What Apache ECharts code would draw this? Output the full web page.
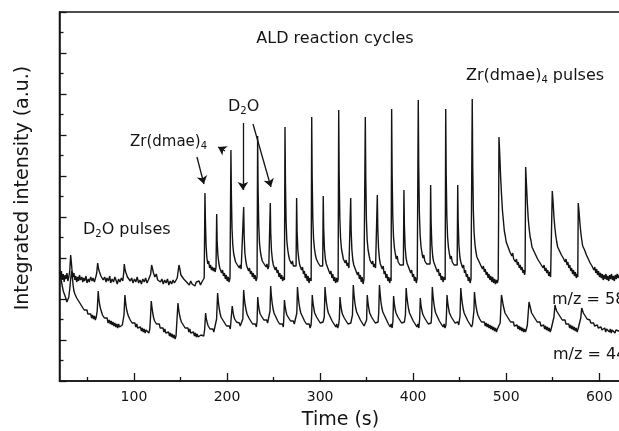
<!DOCTYPE html>
<html><head><meta charset="utf-8">
<script src="https://cdn.jsdelivr.net/npm/echarts@6/dist/echarts.min.js"></script>
<style>html,body{margin:0;padding:0;background:#fff}#c{width:619px;height:431px}</style>
</head><body><div id="c"></div>
<script>
// x-axis tick labels (s)
const xMajorTicks = [100, 200, 300, 400, 500, 600];
const xMinorTicks = [50, 150, 250, 350, 450, 550, 650];

// m/z = 58 trace: [time (s), intensity (a.u.)]
const mz58Pre = [[20,109],[21,103],[22,110],[23,101],[24,107],[25,99],[26,106],[27,102],[28,108],[29,100],[30,104],[31,110],[32,126],[32.8,118],[33.5,110],[34.5,104],[35.5,108],[36.5,101],[37.5,105],[38.5,99],[39.5,104],[40.5,100],[41.5,106],[42.5,101],[44,104],[45,99],[46,103],[47,100],[48.5,105],[49.5,98],[51,102],[52,99],[53.5,104],[55,100],[56,103],[57.5,99],[59,104],[60,108],[61,118],[62,112],[63,109],[64.5,105],[66,107],[67,101],[68.5,104],[70,99],[71,103],[72.5,100],[74,105],[75,98],[76.5,102],[78,99],[79.5,104],[81,100],[82,97],[83.5,102],[85,99],[86.5,103],[88,100],[89,108],[89.6,117],[90.5,111],[91.5,108],[93,104],[94.5,106],[96,100],[97.5,103],[99,98],[100.5,102],[102,99],[103.5,104],[105,98],[106.5,101],[108,97],[109.5,102],[111,99],[112.5,103],[114,98],[115.5,101],[117,100],[118,107],[119,116],[120,112],[121,108],[122.5,104],[124,107],[125.5,101],[127,103],[128.5,99],[130,102],[131.5,97],[133,101],[134.5,98],[136,102],[137.5,96],[139,100],[140.5,97],[142,101],[143.5,98],[145,100],[146.5,103],[147.5,110],[148.4,116],[149.5,111],[150.5,106],[152,108],[153.5,102],[155,104],[156.5,99],[158,101],[159.5,96],[161,100],[162.5,97],[164,99],[165.5,95],[167,99],[168.5,97],[170,100],[171.5,96],[173,99],[174.5,97],[175.5,103]];
const mz58Cycles = [[175.7,102],[176.3,188],[176.8,160],[177.5,136],[178.3,124],[179.3,117],[180.3,120],[181.3,113],[182.3,116],[183.3,111],[184.3,114],[185.3,110],[186.3,113],[187.3,109],[188.2,114],[188.9,167],[189.4,140],[190.2,126],[191.2,118],[192.2,113],[193.2,115],[194.2,108],[195.2,111],[196.2,105],[197.2,108],[198.2,102],[199.2,106],[200.2,100],[201.2,104],[202.2,99],[203.2,103],[203.7,101],
[204.2,231],[204.7,185],[205.4,152],[206.2,136],[207.2,127],[208.2,123],[209.2,119],[210.2,121],[211.2,116],[212.2,118],[213.2,113],[214.2,116],[215.2,112],[216.2,114],[217.3,112],[217.9,174],[218.4,146],[219.2,128],[220.2,120],[221.2,115],[222.2,117],[223.2,110],[224.2,113],[225.2,107],[226.2,110],[227.2,104],[228.2,108],[229.2,102],[230.2,106],[231.2,100],[232.3,104],
[232.9,245],[233.4,192],[234.1,156],[234.9,138],[235.9,129],[236.9,124],[237.9,120],[238.9,122],[239.9,117],[240.9,119],[241.9,114],[242.9,117],[243.9,112],[244.9,115],[245.9,113],[246.5,178],[247,148],[247.8,130],[248.8,121],[249.8,116],[250.8,118],[251.8,111],[252.8,114],[253.8,108],[254.8,111],[255.8,104],[256.8,108],[257.8,102],[258.8,106],[259.8,100],[260.8,104],[261.7,101],
[262.3,254],[262.8,198],[263.5,159],[264.3,140],[265.3,131],[266.3,125],[267.3,121],[268.3,123],[269.3,117],[270.3,120],[271.3,115],[272.3,117],[273.3,113],[274.2,115],[274.8,183],[275.3,150],[276.1,131],[277.1,122],[278.1,116],[279.1,118],[280.1,111],[281.1,114],[282.1,107],[283.1,110],[284.1,103],[285.1,107],[286.1,100],[287.1,105],[288.1,98],[289.1,103],[290.4,100],
[291,264],[291.5,204],[292.2,162],[293,142],[294,132],[295,126],[296,122],[297,124],[298,118],[299,120],[300,115],[301,117],[302,113],[302.8,115],[303.4,185],[303.9,152],[304.7,132],[305.7,122],[306.7,117],[307.7,119],[308.7,112],[309.7,114],[310.7,107],[311.7,110],[312.7,103],[313.7,107],[314.7,100],[315.7,104],[316.7,98],[317.7,103],[318.7,99],[319.4,102],
[320,271],[320.5,208],[321.2,164],[322,143],[323,132],[324,127],[325,122],[326,124],[327,118],[328,121],[329,115],[330,118],[331,113],[332.3,115],[332.9,183],[333.4,150],[334.2,131],[335.2,121],[336.2,116],[337.2,118],[338.2,111],[339.2,113],[340.2,106],[341.2,109],[342.2,102],[343.2,106],[344.2,99],[345.2,104],[346.2,97],[347.2,102],[348,100],
[348.6,264],[349.1,204],[349.8,161],[350.6,141],[351.6,131],[352.6,126],[353.6,121],[354.6,123],[355.6,117],[356.6,120],[357.6,114],[358.6,117],[359.6,113],[360.9,115],[361.5,186],[362,153],[362.8,133],[363.8,122],[364.8,117],[365.8,119],[366.8,112],[367.8,115],[368.8,107],[369.8,110],[370.8,103],[371.8,107],[372.8,100],[373.8,104],[374.8,98],[375.8,103],[376.3,100],
[376.9,272],[377.4,208],[378.1,165],[378.9,144],[379.9,133],[380.9,127],[381.9,122],[382.9,125],[383.9,119],[384.9,121],[385.9,116],[386.9,118],[387.9,114],[389.5,116],[390.1,191],[390.6,156],[391.4,134],[392.4,123],[393.4,118],[394.4,120],[395.4,113],[396.4,115],[397.4,108],[398.4,111],[399.4,104],[400.4,107],[401.4,100],[402.4,104],[403.4,98],[404.4,103],[404.9,101],
[405.5,281],[406,214],[406.7,168],[407.5,146],[408.5,134],[409.5,128],[410.5,123],[411.5,126],[412.5,120],[413.5,122],[414.5,117],[415.5,119],[416.5,115],[418.2,117],[418.8,196],[419.3,159],[420.1,136],[421.1,124],[422.1,119],[423.1,121],[424.1,114],[425.1,116],[426.1,109],[427.1,112],[428.1,105],[429.1,108],[430.1,101],[431.1,105],[432.1,99],[433.1,104],[434.4,101],
[435,272],[435.5,208],[436.2,165],[437,144],[438,133],[439,127],[440,122],[441,125],[442,119],[443,121],[444,116],[445,118],[446,114],[447.3,116],[447.9,196],[448.4,159],[449.2,136],[450.2,124],[451.2,119],[452.2,121],[453.2,113],[454.2,116],[455.2,108],[456.2,111],[457.2,104],[458.2,107],[459.2,100],[460.2,104],[461.2,98],[462.2,102],[462.9,100],
[463.5,282],[464,215],[464.7,170],[465.5,148],[466.5,136],[467.5,129],[468.5,124],[469.5,126],[470.5,120],[471.5,122],[472.5,116],[473.5,118],[474.5,112],[475.5,115],[476.5,109],[477.5,112],[478.5,106],[479.5,109],[480.5,103],[481.5,107],[482.5,101],[483.5,105],[484.5,99],[485.5,104],[486.5,98],[487.5,102],[488.5,97],[489.5,101],[490.5,98],[491.4,102]];
const mz58Late = [[491.8,160],[492.2,244],[493,228],[494,204],[495,186],[496,170],[497,160],[498,150],[499,145],[500,139],[501,141],[502,134],[503,136],[504,129],[505,131],[506,125],[507,128],[508,122],[509,124],[510,119],[511,122],[512,116],[513,119],[514,113],[515,116],[516,111],[517,114],[518,108],[519,111],[519.8,106],[520.3,110],
[520.9,214],[521.7,198],[522.7,178],[523.7,162],[524.7,152],[525.7,144],[526.7,140],[527.7,134],[528.7,136],[529.7,130],[530.7,131],[531.7,126],[532.7,128],[533.7,122],[534.7,124],[535.7,119],[536.7,121],[537.7,116],[538.7,118],[539.7,113],[540.7,116],[541.7,110],[542.7,113],[543.7,108],[544.7,111],[545.7,105],[546.7,109],[547.7,104],[548.7,106],
[549.5,190],[550.3,180],[551.3,164],[552.3,153],[553.3,145],[554.3,139],[555.3,134],[556.3,136],[557.3,130],[558.3,131],[559.3,126],[560.3,128],[561.3,123],[562.3,125],[563.3,119],[564.3,122],[565.3,116],[566.3,119],[567.3,113],[568.3,116],[569.3,110],[570.3,113],[571.3,107],[572.3,111],[573.3,105],[574.3,109],[575.3,103],[576.3,107],[576.9,104],
[577.4,178],[578.2,170],[579.2,158],[580.2,148],[581.2,141],[582.2,135],[583.2,137],[584.2,131],[585.2,132],[586.2,126],[587.2,128],[588.2,122],[589.2,124],[590.2,118],[591.2,120],[592.2,115],[593.2,117],[594.2,111],[595.2,114],[596.2,108],[597.2,112],[598.2,106],[599.2,110],[600.2,104],[601.2,108],[602.2,103],[603.2,107],[604.2,101],[605.2,106],[606.2,102],[607.2,107],[608.2,101],[609.2,105],[610.2,100],[611.2,106],[612.2,102],[613.2,107],[614.2,101],[615.2,105],[616.2,100],[617.2,106],[618.2,102],[619.2,107],[620.2,103],[621.2,106],[622.5,102],[624,105],[626,101]];

// m/z = 44 trace: [time (s), intensity (a.u.)]
const mz44Pre = [[20,111],[21,106],[22,100],[23,95],[24,90],[25,92],[26,85],[27,83],[28,79],[29,78],[30,84],[31,92],[32,102],[33,110],[33.8,104],[34.6,96],[35.5,90],[36.5,87],[37.5,88],[38.5,83],[39.5,84],[40.5,80],[41.5,81],[42.5,77],[43.5,78],[44.5,74],[45.5,75],[46.5,71],[47.5,73],[48.5,69],[49.5,71],[50.5,67],[51.5,69],[52.5,65],[53.5,67],[54.5,63],[55.5,66],[56.5,62],[57.5,65],[58.5,61],[59.5,64],[60.5,70],[61.6,90],[62.3,82],[63.2,76],[64.2,72],[65.2,70],[66.2,66],[67.2,68],[68.2,63],[69.2,65],[70.2,61],[71.2,63],[72.2,58],[73.5,61],[74.5,57],[75.5,60],[76.5,56],[77.5,59],[78.5,55],[79.5,58],[80.5,54],[81.5,57],[82.5,53],[83.5,57],[84.5,54],[85.5,56],[86.5,53],[87.5,56],[88.5,54],[89.3,66],[90.3,86],[91,79],[92,72],[93,68],[94,65],[95,66],[96,61],[97,63],[98,58],[99,60],[100,56],[101,58],[102,54],[103,57],[104,53],[105,55],[106,51],[107,54],[108,50],[109,53],[110,49],[111,52],[112,48],[113,51],[114,49],[115,52],[116,48],[117,52],[117.8,64],[118.6,80],[119.3,74],[120.2,68],[121.2,63],[122.2,60],[123.2,61],[124.2,57],[125.2,59],[126.2,55],[127.2,57],[128.2,53],[129.2,55],[130.2,51],[131.2,53],[132.2,49],[133.2,52],[134.2,48],[135.2,50],[136.2,46],[137.2,49],[138.2,45],[139.2,48],[140.2,44],[141.2,47],[142.2,43],[143.2,46],[144.2,42],[145.2,45],[146.2,44],[147.3,78],[148,72],[149,66],[150,62],[151,59],[152,60],[153,56],[154,57],[155,53],[156,55],[157,51],[158,53],[159,49],[160,52],[161,48],[162,50],[163,46],[164,49],[165,45],[166,48],[167,44],[168,47],[169,44],[170,46],[171,43],[172,46],[173,44],[174,47],[175,45],[176,52]];
const mz44Cycles = [[177,68],[177.8,62],[178.8,58],[179.8,55],[180.8,56],[181.8,52],[182.8,54],[183.8,50],[184.8,52],[185.8,49],[186.8,51],[187.8,50],[188.8,62],[189.9,88],[190.6,80],[191.5,73],[192.5,68],[193.5,64],[194.5,65],[195.5,61],[196.5,62],[197.5,58],[198.5,59],[199.5,55],[200.5,57],[201.5,53],[202.5,55],[203.5,52],[204.5,54],[205.6,75],[206.3,70],[207.2,65],[208.2,62],[209.2,63],[210.2,59],[211.2,60],[212.2,57],[213.2,58],[214.2,55],[215.2,57],[216.2,55],[217,62],[217.9,91],[218.6,83],[219.5,76],[220.5,71],[221.5,67],[222.5,68],[223.5,63],[224.5,64],[225.5,60],[226.5,61],[227.5,57],[228.5,58],[229.5,55],[230.5,57],[231.5,54],[232.3,60],[233,84],[233.7,77],[234.6,71],[235.6,67],[236.6,68],[237.6,64],[238.6,65],[239.6,61],[240.6,62],[241.6,59],[242.6,61],[243.6,58],[244.6,60],[245.6,59],[246.2,70],
[246.9,95],[247.6,86],[248.5,78],[249.5,72],[250.5,68],[251.5,69],[252.5,64],[253.5,65],[254.5,60],[255.5,62],[256.5,57],[257.5,59],[258.5,55],[259.5,57],[260.5,54],[261,62],[261.7,81],[262.4,75],[263.3,70],[264.3,66],[265.3,67],[266.3,63],[267.3,64],[268.3,60],[269.3,62],[270.3,58],[271.3,60],[272.3,57],[273.3,59],[274.3,58],[275,68],[275.7,94],[276.4,86],[277.3,78],[278.3,72],[279.3,68],[280.3,69],[281.3,64],[282.3,65],[283.3,60],[284.3,62],[285.3,57],[286.3,59],[287.3,55],[288.3,57],[289.3,53],[290.3,56],[291,66],[291.6,86],[292.3,79],[293.2,73],[294.2,68],[295.2,69],[296.2,64],[297.2,65],[298.2,61],[299.2,62],[300.2,58],[301.2,60],[302.2,57],[303.2,59],[304.5,64],[305.3,94],[306,86],[306.9,78],[307.9,72],[308.9,68],[309.9,69],[310.9,64],[311.9,65],[312.9,60],[313.9,62],[314.9,57],[315.9,59],[316.9,54],[317.9,57],[318.9,53],[319.9,56],[320.7,62],[321.4,84],[322.1,77],[323,71],[324,67],[325,68],[326,63],[327,64],[328,60],[329,61],[330,57],[331,59],[332,56],[333,58],[334.8,66],[335.7,96],[336.4,87],[337.3,79],[338.3,73],[339.3,69],[340.3,70],[341.3,65],[342.3,66],[343.3,61],[344.3,62],[345.3,58],[346.3,60],[347.3,55],[348.3,57],[349.3,53],[350,61],[350.7,86],[351.4,79],[352.3,73],[353.3,68],[354.3,69],[355.3,64],[356.3,65],[357.3,61],[358.3,62],[359.3,58],[360.3,60],[361.3,57],[362.3,59],[363,68],[363.8,96],[364.5,88],[365.4,79],[366.4,73],[367.4,69],[368.4,70],[369.4,65],[370.4,66],[371.4,61],[372.4,62],[373.4,57],[374.4,59],[375.4,54],[376.4,57],[377.4,53],[378.3,60],[379,85],[379.7,78],[380.6,72],[381.6,68],[382.6,69],[383.6,64],[384.6,65],[385.6,61],[386.6,62],[387.6,58],[388.6,60],[389.6,57],[390.6,59],[391.7,66],[392.5,93],[393.2,85],[394.1,78],[395.1,72],[396.1,68],[397.1,69],[398.1,64],[399.1,65],[400.1,60],[401.1,62],[402.1,57],[403.1,59],[404.1,54],[405.1,57],[406.1,53],[407,62],[407.7,83],[408.4,76],[409.3,71],[410.3,67],[411.3,68],[412.3,63],[413.3,64],[414.3,60],[415.3,61],[416.3,57],[417.3,59],[418.3,56],[419.3,58],[419.9,66],[420.6,94],[421.3,86],[422.2,78],[423.2,72],[424.2,68],[425.2,69],[426.2,64],[427.2,65],[428.2,60],[429.2,62],[430.2,57],[431.2,59],[432.2,54],[433.2,57],[434.2,53],[435.2,56],[435.8,66],[436.4,86],[437.1,79],[438,73],[439,68],[440,69],[441,64],[442,65],[443,61],[444,62],[445,58],[446,60],[447,57],[448,59],[449,56],[450.4,65],[451.2,93],[451.9,85],[452.8,78],[453.8,72],[454.8,68],[455.8,69],[456.8,64],[457.8,65],[458.8,60],[459.8,62],[460.8,57],[461.8,59],[462.8,54],[463.8,57],[464.8,55],[465.3,70],[465.9,89],[466.6,82],[467.5,75],[468.5,70],[469.5,66],[470.5,67],[471.5,62],[472.5,64],[473.5,59],[474.5,61],[475.5,57],[476.5,59],[477.5,55],[478.5,58],[479.5,54],[480.5,57],[481.5,53],[482.5,56],[483.5,52],[484.5,55],[485.5,51],[486.5,54],[487.5,50],[488.5,53],[489.5,49],[490.5,52],[491.5,50],[492.5,53]];
const mz44Late = [[493.5,58],[494.9,86],[495.7,82],[496.7,76],[497.7,72],[498.7,68],[499.7,69],[500.7,65],[501.7,66],[502.7,62],[503.7,63],[504.7,59],[505.7,61],[506.7,57],[507.7,59],[508.7,55],[509.7,57],[510.7,53],[511.7,56],[512.7,52],[513.7,55],[514.7,51],[515.7,54],[516.7,50],[517.7,53],[518.7,49],[519.7,52],[520.7,49],[521.7,52],[522.7,56],[523.5,66],[524.5,79],[525.3,76],[526.3,72],[527.3,68],[528.3,69],[529.3,65],[530.3,66],[531.3,62],[532.3,63],[533.3,59],[534.3,61],[535.3,57],[536.3,59],[537.3,55],[538.3,57],[539.3,53],[540.3,56],[541.3,52],[542.3,55],[543.3,51],[544.3,54],[545.3,50],[546.3,53],[547.3,49],[548.3,52],[549.3,50],[550.3,54],[551.3,64],[552.4,76],[553.2,73],[554.2,70],[555.2,71],[556.2,67],[557.2,68],[558.2,64],[559.2,65],[560.2,61],[561.2,63],[562.2,59],[563.2,61],[564.2,57],[565.2,59],[566.2,55],[567.2,57],[568.2,53],[569.2,56],[570.2,52],[571.2,55],[572.2,51],[573.2,54],[574.2,50],[575.2,53],[576.2,49],[577.2,52],[578.2,50],[579.2,54],[580.1,63],[581.1,73],[581.9,71],[582.9,68],[583.9,69],[584.9,65],[585.9,66],[586.9,62],[587.9,63],[588.9,60],[589.9,61],[590.9,58],[591.9,59],[592.9,56],[593.9,58],[594.9,55],[595.9,57],[596.9,54],[597.9,56],[598.9,53],[599.9,55],[600.9,52],[601.9,54],[602.9,51],[603.9,53],[604.9,50],[605.9,53],[606.9,49],[607.9,52],[608.9,50],[609.9,52],[610.9,49],[611.9,52],[612.9,48],[613.9,51],[614.9,49],[615.9,52],[616.9,48],[617.9,51],[618.9,49],[619.9,52],[620.9,50],[622,51],[624,49],[626,52]];

// annotation arrows: [start [t, v], end [t, v]]
const arrows = [
  [[167.7, 224], [175.2, 197]],
  [[197.9, 230], [190.4, 234]],
  [[217.1, 258], [217.1, 191]],
  [[227.9, 257], [247.2, 194]]
];

const FONT = '"DejaVu Sans", sans-serif';
const INK = '#141414';
const mz58 = mz58Pre.concat(mz58Cycles, mz58Late);
const mz44 = mz44Pre.concat(mz44Cycles, mz44Late);

const chart = echarts.init(document.getElementById('c'), null, {renderer: 'canvas'});
const subRich = {
  a: {fontSize: 16, fontFamily: FONT, fill: INK, color: INK, lineHeight: 18},
  s: {fontSize: 10, fontFamily: FONT, fill: INK, color: INK, lineHeight: 10, verticalAlign: 'bottom'}
};
function txt(x, y, text, size, align, rich) {
  return {type: 'text', x: x, y: y, silent: true, style: {
    text: text, font: size + 'px ' + FONT, fill: INK,
    align: align, textAlign: align, verticalAlign: 'middle', textVerticalAlign: 'middle',
    rich: rich
  }};
}
chart.setOption({
  animation: false,
  backgroundColor: '#fff',
  grid: {left: 59.5, width: 577, top: 12, height: 369, outerBoundsMode: 'none', containLabel: false,
         show: true, borderColor: INK, borderWidth: 1.5, backgroundColor: 'transparent'},
  xAxis: [{
    type: 'value', min: 20, max: 640, position: 'bottom',
    axisLine: {show: true, onZero: false, lineStyle: {color: INK, width: 1.5}},
    axisTick: {show: true, inside: true, length: 8, customValues: xMajorTicks, lineStyle: {color: INK, width: 1.3}},
    axisLabel: {show: true, customValues: xMajorTicks, margin: 9, fontSize: 14, fontFamily: FONT, color: INK},
    splitLine: {show: false}
  }, {
    type: 'value', min: 20, max: 640, position: 'bottom',
    axisLine: {show: false},
    axisTick: {show: true, inside: true, length: 4, customValues: xMinorTicks, lineStyle: {color: INK, width: 1.3}},
    axisLabel: {show: false},
    splitLine: {show: false}
  }],
  yAxis: {
    type: 'value', min: 0, max: 369, interval: 41,
    axisLine: {show: true, onZero: false, lineStyle: {color: INK, width: 1.5}},
    axisTick: {show: true, inside: true, length: 7, lineStyle: {color: INK, width: 1.3}},
    minorTick: {show: true, splitNumber: 2, length: 4, lineStyle: {color: INK, width: 1.3}},
    axisLabel: {show: false},
    splitLine: {show: false}
  },
  series: [{
    name: 'm/z = 58', type: 'line', data: mz58, showSymbol: false, symbol: 'none',
    lineStyle: {color: INK, width: 1.4}, clip: true,
    markLine: {
      silent: true, symbol: ['none', 'arrow'], symbolSize: 8, animation: false,
      label: {show: false},
      lineStyle: {color: INK, width: 1.3, type: 'solid'},
      data: arrows.map(a => [{coord: a[0]}, {coord: a[1]}])
    }
  }, {
    name: 'm/z = 44', type: 'line', data: mz44, showSymbol: false, symbol: 'none',
    lineStyle: {color: INK, width: 1.4}, clip: true
  }],
  graphic: [
    txt(335, 39, 'ALD reaction cycles', 16, 'center'),
    txt(466, 76, '{a|Zr(dmae)}{s|4}{a| pulses}', 16, 'left', subRich),
    txt(130, 142.5, '{a|Zr(dmae)}{s|4}', 15, 'left', {a: Object.assign({}, subRich.a, {fontSize: 15}), s: subRich.s}),
    txt(228, 107, '{a|D}{s|2}{a|O}', 16, 'left', subRich),
    txt(83, 230, '{a|D}{s|2}{a|O pulses}', 16, 'left', subRich),
    txt(552, 300, 'm/z = 58', 16, 'left'),
    txt(553, 355, 'm/z = 44', 16, 'left'),
    txt(340.5, 420, 'Time (s)', 19, 'center'),
    {type: 'text', x: 23, y: 188, rotation: Math.PI / 2, silent: true, style: {
      text: 'Integrated intensity (a.u.)', font: '19px ' + FONT, fill: INK,
      align: 'center', textAlign: 'center', verticalAlign: 'middle', textVerticalAlign: 'middle'}}
  ]
});
</script></body></html>
